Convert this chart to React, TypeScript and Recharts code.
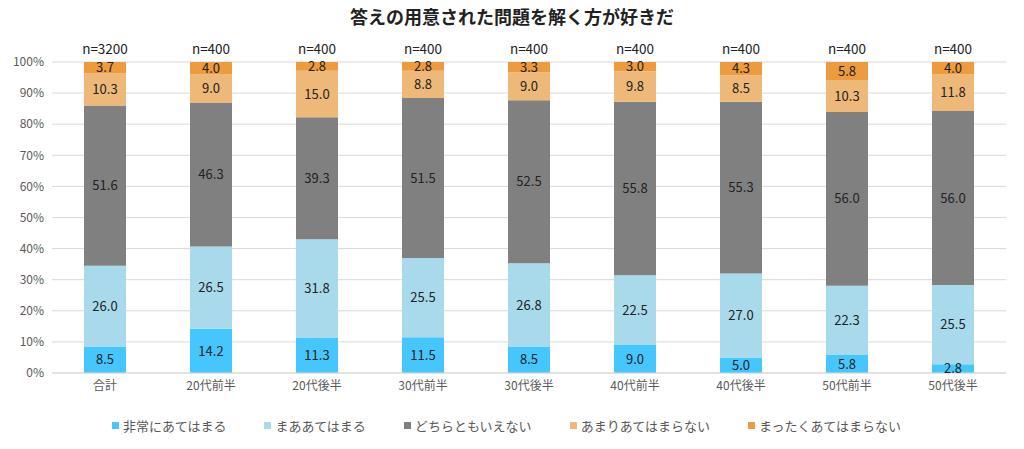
import { BarChart, Bar, XAxis, YAxis, CartesianGrid, Legend, LabelList } from 'recharts';

const categories = ['合計', '20代前半', '20代後半', '30代前半', '30代後半', '40代前半', '40代後半', '50代前半', '50代後半'];
const sampleSizes = ['n=3200', 'n=400', 'n=400', 'n=400', 'n=400', 'n=400', 'n=400', 'n=400', 'n=400'];

const veryTrue = [8.5, 14.2, 11.3, 11.5, 8.5, 9.0, 5.0, 5.8, 2.8];
const somewhatTrue = [26.0, 26.5, 31.8, 25.5, 26.8, 22.5, 27.0, 22.3, 25.5];
const neither = [51.6, 46.3, 39.3, 51.5, 52.5, 55.8, 55.3, 56.0, 56.0];
const notMuch = [10.3, 9.0, 15.0, 8.8, 9.0, 9.8, 8.5, 10.3, 11.8];
const notAtAll = [3.7, 4.0, 2.8, 2.8, 3.3, 3.0, 4.3, 5.8, 4.0];

const SERIES = [
  { key: 'a', name: '非常にあてはまる', color: '#45C6FC', values: veryTrue },
  { key: 'b', name: 'まああてはまる', color: '#A9DAEC', values: somewhatTrue },
  { key: 'c', name: 'どちらともいえない', color: '#808080', values: neither },
  { key: 'd', name: 'あまりあてはまらない', color: '#EEB878', values: notMuch },
  { key: 'e', name: 'まったくあてはまらない', color: '#EC9B3E', values: notAtAll },
];

const data = categories.map((cat, i) => {
  const row: Record<string, string | number> = { cat, n: sampleSizes[i] };
  SERIES.forEach((s) => (row[s.key] = s.values[i]));
  return row;
});

const FONT = '"Noto Sans CJK JP", "Noto Sans", sans-serif';

const renderLegend = () => (
  <div style={{ display: 'flex', justifyContent: 'center', gap: 38, fontSize: 13, color: '#595959', fontFamily: FONT }}>
    {SERIES.map((s) => (
      <div key={s.key} style={{ display: 'flex', alignItems: 'center' }}>
        <span style={{ width: 7, height: 7, background: s.color, display: 'inline-block', marginRight: 4 }} />
        {s.name}
      </div>
    ))}
  </div>
);

export default function App() {
  return (
    <div style={{ position: 'absolute', left: 0, top: 0, width: 1024, height: 449, background: '#fff', fontFamily: FONT }}>
      <div style={{ position: 'absolute', top: 3, width: 1024, textAlign: 'center', fontSize: 18, fontWeight: 'bold', color: '#222' }}>
        答えの用意された問題を解く方が好きだ
      </div>
      <BarChart
        width={1024}
        height={449}
        data={data}
        stackOffset="expand"
        margin={{ top: 42, right: 18, left: 7, bottom: 14 }}
      >
        <CartesianGrid vertical={false} stroke="#D9D9D9" />
        <XAxis
          dataKey="cat"
          xAxisId="bottom"
          tickLine={false}
          axisLine={{ stroke: '#D9D9D9' }}
          tick={{ fontSize: 12, fill: '#595959' }}
          height={30}
        />
        <XAxis
          dataKey="n"
          xAxisId="top"
          orientation="top"
          tickLine={false}
          axisLine={false}
          tick={{ fontSize: 13.5, fill: '#222', dy: 0 }}
          height={20}
        />
        <YAxis
          width={45}
          ticks={[0, 0.1, 0.2, 0.3, 0.4, 0.5, 0.6, 0.7, 0.8, 0.9, 1]}
          domain={[0, 1]}
          tickFormatter={(v: number) => `${Math.round(v * 100)}%`}
          tickLine={false}
          axisLine={false}
          tick={{ fontSize: 12, fill: '#595959' }}
        />
        <Legend verticalAlign="bottom" content={renderLegend} wrapperStyle={{ paddingTop: 13 }} />
        {SERIES.map((s) => (
          <Bar key={s.key} dataKey={s.key} name={s.name} stackId="s" fill={s.color} barSize={42} xAxisId="bottom" isAnimationActive={false}>
            <LabelList dataKey={s.key} position="center" formatter={(v: number) => v.toFixed(1)} style={{ fontSize: 13, fill: '#222' }} />
          </Bar>
        ))}
      </BarChart>
    </div>
  );
}
